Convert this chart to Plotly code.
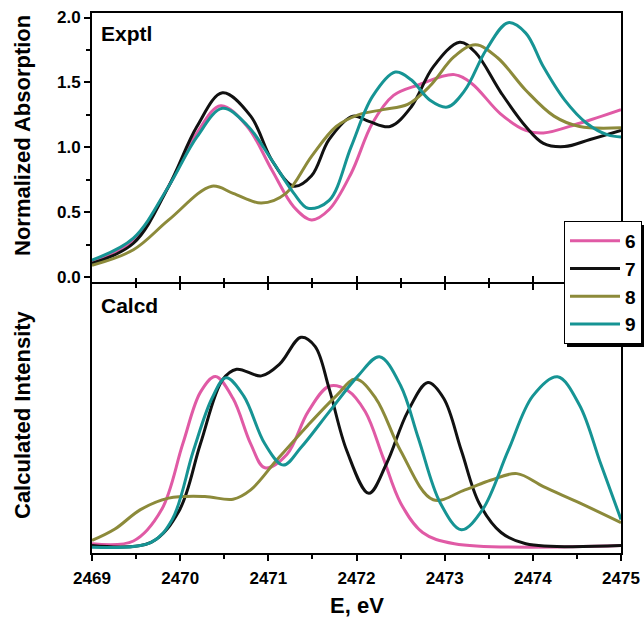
import plotly.graph_objects as go
from plotly.subplots import make_subplots

# ---------------- data ----------------
series_names = ["6", "7", "8", "9"]
series_colors = ["#E05AA5", "#111111", "#8C8A3A", "#169494"]

# Experimental (top panel): energy (eV) and normalized absorption
exp6_E = [2469.0, 2469.47, 2469.87, 2470.19, 2470.46, 2470.76, 2471.04, 2471.29, 2471.49, 2471.69, 2471.94, 2472.18, 2472.42, 2472.70, 2473.11, 2473.31, 2473.63, 2473.92, 2474.12, 2474.53, 2475.0]
exp6_v = [0.12, 0.285, 0.70, 1.11, 1.32, 1.16, 0.825, 0.54, 0.44, 0.52, 0.80, 1.185, 1.40, 1.48, 1.56, 1.49, 1.26, 1.13, 1.11, 1.185, 1.29]

exp7_E = [2469.0, 2469.47, 2469.87, 2470.19, 2470.48, 2470.80, 2471.04, 2471.29, 2471.49, 2471.69, 2471.96, 2472.14, 2472.38, 2472.62, 2472.87, 2473.17, 2473.35, 2473.64, 2473.92, 2474.12, 2474.36, 2474.65, 2475.0]
exp7_v = [0.105, 0.26, 0.70, 1.16, 1.42, 1.24, 0.90, 0.70, 0.78, 1.06, 1.24, 1.20, 1.16, 1.31, 1.62, 1.81, 1.73, 1.42, 1.16, 1.03, 1.005, 1.06, 1.13]

exp8_E = [2469.0, 2469.47, 2469.87, 2470.36, 2470.60, 2470.92, 2471.20, 2471.49, 2471.77, 2472.02, 2472.30, 2472.58, 2472.83, 2473.11, 2473.35, 2473.60, 2473.92, 2474.24, 2474.53, 2475.0]
exp8_v = [0.09, 0.21, 0.44, 0.70, 0.645, 0.57, 0.645, 0.93, 1.16, 1.25, 1.29, 1.33, 1.47, 1.70, 1.79, 1.69, 1.44, 1.24, 1.16, 1.15]

exp9_E = [2469.0, 2469.47, 2469.87, 2470.19, 2470.48, 2470.76, 2471.04, 2471.29, 2471.45, 2471.69, 2471.94, 2472.18, 2472.44, 2472.62, 2472.83, 2473.03, 2473.23, 2473.47, 2473.72, 2473.92, 2474.12, 2474.36, 2474.61, 2474.85, 2475.0]
exp9_v = [0.13, 0.30, 0.70, 1.08, 1.30, 1.17, 0.90, 0.645, 0.53, 0.59, 1.005, 1.39, 1.58, 1.52, 1.365, 1.31, 1.44, 1.75, 1.96, 1.88, 1.62, 1.365, 1.185, 1.095, 1.08]

# Calculated (bottom panel): energy (eV) and intensity (arbitrary units)
calc6_E = [2469.0, 2469.47, 2469.79, 2470.03, 2470.23, 2470.40, 2470.60, 2470.80, 2470.96, 2471.21, 2471.45, 2471.69, 2471.90, 2472.10, 2472.30, 2472.50, 2472.75, 2473.11, 2475.0]
calc6_v = [0.025, 0.035, 0.153, 0.40, 0.594, 0.653, 0.57, 0.40, 0.31, 0.36, 0.52, 0.616, 0.60, 0.52, 0.35, 0.178, 0.067, 0.025, 0.018]

calc7_E = [2469.0, 2469.67, 2469.99, 2470.23, 2470.48, 2470.64, 2470.92, 2471.13, 2471.37, 2471.53, 2471.69, 2471.89, 2472.14, 2472.34, 2472.58, 2472.81, 2472.99, 2473.19, 2473.39, 2473.64, 2473.92, 2475.0]
calc7_v = [0.018, 0.03, 0.15, 0.40, 0.64, 0.68, 0.655, 0.70, 0.80, 0.766, 0.607, 0.374, 0.214, 0.325, 0.52, 0.63, 0.57, 0.374, 0.178, 0.067, 0.025, 0.018]

calc8_E = [2469.0, 2469.26, 2469.55, 2469.87, 2470.28, 2470.60, 2470.80, 2471.09, 2471.45, 2471.77, 2471.99, 2472.22, 2472.50, 2472.87, 2473.23, 2473.52, 2473.82, 2474.12, 2474.53, 2475.0]
calc8_v = [0.037, 0.08, 0.153, 0.196, 0.202, 0.192, 0.227, 0.337, 0.47, 0.58, 0.643, 0.57, 0.374, 0.19, 0.227, 0.263, 0.288, 0.239, 0.178, 0.104]

calc9_E = [2469.0, 2469.67, 2469.91, 2470.15, 2470.36, 2470.52, 2470.72, 2470.96, 2471.17, 2471.37, 2471.69, 2472.02, 2472.26, 2472.50, 2472.70, 2472.95, 2473.19, 2473.43, 2473.72, 2474.00, 2474.28, 2474.53, 2474.77, 2475.0]
calc9_v = [0.012, 0.03, 0.116, 0.374, 0.57, 0.648, 0.58, 0.40, 0.32, 0.386, 0.52, 0.656, 0.727, 0.619, 0.423, 0.178, 0.077, 0.153, 0.374, 0.58, 0.652, 0.545, 0.325, 0.116]

exp_E = [exp6_E, exp7_E, exp8_E, exp9_E]
exp_v = [exp6_v, exp7_v, exp8_v, exp9_v]
calc_E = [calc6_E, calc7_E, calc8_E, calc9_E]
calc_v = [calc6_v, calc7_v, calc8_v, calc9_v]

x_range = [2469, 2475]
y_top_range = [-0.0386, 2.035]
y_bottom_range = [-0.01, 1.0]

# ---------------- figure ----------------
FONT = "Liberation Sans, Arial, sans-serif"
W, H = 644, 618
ML, MR, MT, MB = 92, 23, 13, 65
PW, PH = W - ML - MR, H - MT - MB


def px2x(p):
    return (p - ML) / PW


def px2y(p):
    return (H - MB - p) / PH


fig = make_subplots(rows=2, cols=1, shared_xaxes=True, vertical_spacing=0)

for name, col, e, v in zip(series_names, series_colors, exp_E, exp_v):
    fig.add_trace(go.Scatter(x=e, y=v, mode="lines", name=name,
                             line=dict(color=col, width=3, shape="spline", smoothing=1.0),
                             showlegend=True), row=1, col=1)
for name, col, e, v in zip(series_names, series_colors, calc_E, calc_v):
    fig.add_trace(go.Scatter(x=e, y=v, mode="lines", name=name,
                             line=dict(color=col, width=3, shape="spline", smoothing=1.0),
                             showlegend=False), row=2, col=1)

# empty helper traces so the tick-only overlay axes get drawn
fig.add_trace(go.Scatter(x=x_range, y=[None, None], mode="lines", xaxis="x3", yaxis="y2",
                         showlegend=False, hoverinfo="skip"))
fig.add_trace(go.Scatter(x=x_range, y=[None, None], mode="lines", xaxis="x4", yaxis="y",
                         showlegend=False, hoverinfo="skip"))

axis_common = dict(showline=True, linecolor="black", linewidth=2, showgrid=False,
                   zeroline=False)
tickfont = dict(family=FONT, size=17, color="black", weight="bold")
minor_out = dict(dtick=0.5, tick0=2469, ticks="outside", ticklen=4, tickwidth=2,
                 tickcolor="black", showgrid=False)
minor_in = dict(dtick=0.5, tick0=2469, ticks="inside", ticklen=4, tickwidth=2,
                tickcolor="black", showgrid=False)
# tick-only axes used for the crossing ticks on the shared middle border
cross_axis = dict(range=x_range, tickmode="linear", tick0=2469, dtick=1,
                  ticks="inside", ticklen=6, tickwidth=2, tickcolor="black",
                  showline=False, showgrid=False, zeroline=False,
                  showticklabels=False, minor=minor_in)

# panels meet at y = 283 px; offset domains so both axis lines coincide there
top_dom = [px2y(282), px2y(13)]
bot_dom = [0, px2y(284)]

fig.update_layout(
    width=W, height=H,
    margin=dict(l=ML, r=MR, t=MT, b=MB, autoexpand=False),
    paper_bgcolor="white", plot_bgcolor="rgba(0,0,0,0)",
    font=dict(family=FONT, color="black"),
    xaxis=dict(**axis_common, domain=[0, 1], range=x_range, mirror=True,
               ticks="", showticklabels=False),
    xaxis2=dict(**axis_common, domain=[0, 1], range=x_range, mirror=True,
                tickmode="linear", tick0=2469, dtick=1, tickformat="d",
                ticks="outside", ticklen=6, tickwidth=2, tickcolor="black",
                tickfont=tickfont, ticklabelstandoff=3, minor=minor_out),
    xaxis3=dict(**cross_axis, overlaying="x2", anchor="y2", side="top"),
    xaxis4=dict(**cross_axis, overlaying="x", anchor="y", side="bottom"),
    yaxis=dict(**axis_common, domain=top_dom, range=y_top_range, mirror=True,
               tickmode="linear", tick0=0, dtick=0.5, tickformat=".1f",
               ticks="outside", ticklen=6, tickwidth=2, tickcolor="black",
               tickfont=tickfont,
               minor=dict(dtick=0.25, tick0=0, ticks="outside", ticklen=4,
                          tickwidth=2, tickcolor="black", showgrid=False)),
    yaxis2=dict(**axis_common, domain=bot_dom, range=y_bottom_range, mirror=True,
                showticklabels=False, ticks=""),
    legend=dict(x=px2x(564), y=px2y(221), xanchor="left", yanchor="top",
                bgcolor="white", bordercolor="black", borderwidth=1,
                font=dict(family=FONT, size=19, color="black", weight="bold"),
                itemwidth=50, tracegroupgap=0, traceorder="normal"),
)

# legend drop shadow
fig.add_shape(type="rect", xref="paper", yref="paper",
              x0=px2x(567), x1=px2x(644), y0=px2y(347), y1=px2y(225),
              fillcolor="black", line=dict(width=0), layer="above")

title_font = dict(family=FONT, size=22, color="black", weight="bold")
label_font = dict(family=FONT, size=21, color="black", weight="bold")
fig.add_annotation(text="Exptl", xref="paper", yref="paper", x=px2x(99), y=px2y(33),
                   xanchor="left", yanchor="middle", showarrow=False, font=label_font)
fig.add_annotation(text="Calcd", xref="paper", yref="paper", x=px2x(99), y=px2y(305),
                   xanchor="left", yanchor="middle", showarrow=False, font=label_font)
fig.add_annotation(text="Normalized Absorption", xref="paper", yref="paper",
                   x=px2x(22), y=px2y(136), xanchor="center", yanchor="middle",
                   textangle=-90, showarrow=False, font=title_font)
fig.add_annotation(text="Calculated Intensity", xref="paper", yref="paper",
                   x=px2x(22), y=px2y(415), xanchor="center", yanchor="middle",
                   textangle=-90, showarrow=False, font=title_font)
fig.add_annotation(text="E, eV", xref="paper", yref="paper",
                   x=0.5, y=px2y(605), xanchor="center", yanchor="middle",
                   showarrow=False, font=title_font)

fig.write_html("out.html")
